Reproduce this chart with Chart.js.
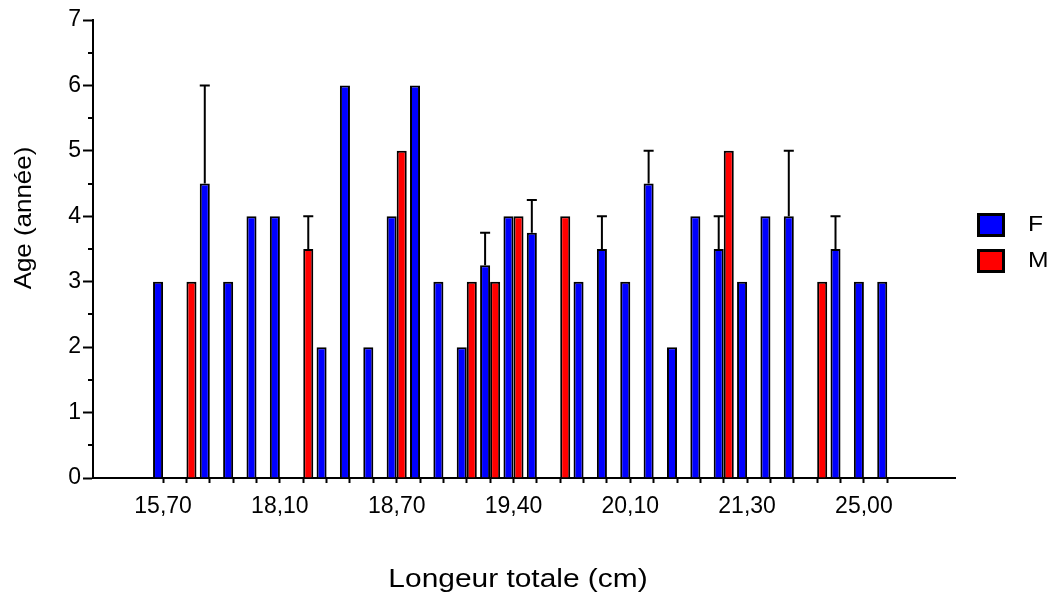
<!DOCTYPE html>
<html>
<head>
<meta charset="utf-8">
<script src="https://cdn.jsdelivr.net/npm/chart.js@4/dist/chart.umd.min.js"></script>
<style>
  html, body { margin: 0; padding: 0; background: #fff; }
  #wrap { width: 1052px; height: 592px; position: relative; }
</style>
</head>
<body>
<div id="wrap"><canvas id="c"></canvas></div>
<script>
// ---- data ----
const tickLabels = ['15,70','','','','','18,10','','','','','18,70','','','','','19,40','','','','','20,10','','','','','21,30','','','','','25,00',''];
const femaleAge = [3, null, 4.5, 3, 4, 4, null, 2, 6, 2, 4, 6, 3, 2, 3.25, 4, 3.75, null, 3, 3.5, 3, 4.5, 2, 4, 3.5, 3, 4, 4, null, 3.5, 3, 3];
const maleAge   = [null, 3, null, null, null, null, 3.5, null, null, null, 5, null, null, 3, 3, 4, null, 4, null, null, null, null, null, null, 5, null, null, null, 3, null, null, null];
const femaleErr = [0, 0, 1.5, 0, 0, 0, 0, 0, 0, 0, 0, 0, 0, 0, 0.5, 0, 0.5, 0, 0, 0.5, 0, 0.5, 0, 0, 0.5, 0, 0, 1, 0, 0.5, 0, 0];
const maleErr   = [0, 0, 0, 0, 0, 0, 0.5, 0, 0, 0, 0, 0, 0, 0, 0, 0, 0, 0, 0, 0, 0, 0, 0, 0, 0, 0, 0, 0, 0, 0, 0, 0];
const seriesNames = ['F', 'M'];
const xTitle = 'Longeur totale (cm)';
const yTitle = 'Age (année)';

const FONT = '"Liberation Sans", Arial, Helvetica, sans-serif';
const toPoints = arr => arr.map((v, i) => ({ x: i, y: v }));
const errs = [femaleErr, maleErr];

function drawStretched(ctx, text, x, y, size, sx, align, baseline, angle) {
  ctx.save();
  ctx.translate(x, y);
  if (angle) ctx.rotate(angle);
  ctx.scale(sx, 1);
  ctx.font = size + 'px ' + FONT;
  ctx.fillStyle = '#000';
  ctx.textAlign = align;
  ctx.textBaseline = baseline;
  ctx.fillText(text, 0, 0);
  ctx.restore();
}

const extras = {
  id: 'extras',
  afterDatasetsDraw(chart) {
    const ctx = chart.ctx;
    const yS = chart.scales.y;
    ctx.save();
    ctx.strokeStyle = '#000';
    ctx.lineWidth = 2;
    chart.data.datasets.forEach((ds, di) => {
      const meta = chart.getDatasetMeta(di);
      meta.data.forEach((bar, i) => {
        const v = ds.data[i].y;
        const e = errs[di][i];
        if (v == null || !e) return;
        const top = yS.getPixelForValue(v + e);
        const half = bar.width / 2;
        ctx.beginPath();
        ctx.moveTo(bar.x, bar.y);
        ctx.lineTo(bar.x, top);
        ctx.moveTo(bar.x - half, top);
        ctx.lineTo(bar.x + half, top);
        ctx.stroke();
      });
    });
    ctx.restore();
  },
  afterDraw(chart) {
    const ctx = chart.ctx;
    const yS = chart.scales.y;
    const ca = chart.chartArea;
    // minor ticks on y
    ctx.save();
    ctx.strokeStyle = '#000';
    ctx.lineWidth = 2;
    for (let v = 0.5; v < yS.max; v += 1) {
      const py = Math.round(yS.getPixelForValue(v));
      ctx.beginPath();
      ctx.moveTo(ca.left - 5, py);
      ctx.lineTo(ca.left, py);
      ctx.stroke();
    }
    ctx.restore();
    // axis titles
    drawStretched(ctx, xTitle, 518, 587, 26, 1.15, 'center', 'alphabetic', 0);
    drawStretched(ctx, yTitle, 31, 218, 24, 1.08, 'center', 'alphabetic', -Math.PI / 2);
    // legend
    chart.data.datasets.forEach((ds, di) => {
      const top = 213 + di * 36;
      ctx.save();
      ctx.fillStyle = ds.backgroundColor;
      ctx.fillRect(977, top, 28, 24);
      ctx.strokeStyle = '#000';
      ctx.lineWidth = 3;
      ctx.strokeRect(978.5, top + 1.5, 25, 21);
      ctx.restore();
      drawStretched(ctx, ds.label, 1028, top + 12, 22, 1.12, 'left', 'middle', 0);
    });
  }
};

new Chart(document.getElementById('c'), {
  type: 'bar',
  data: {
    datasets: [
      { label: seriesNames[0], data: toPoints(femaleAge), backgroundColor: '#0000FF', borderColor: '#000', borderWidth: 2 },
      { label: seriesNames[1], data: toPoints(maleAge), backgroundColor: '#FF0000', borderColor: '#000', borderWidth: 2 }
    ]
  },
  options: {
    responsive: true,
    maintainAspectRatio: false,
    animation: false,
    layout: { padding: { left: 0, top: 20, right: 97, bottom: 0 } },
    datasets: { bar: { categoryPercentage: 0.86, barPercentage: 1, grouped: true } },
    plugins: { legend: { display: false }, tooltip: { enabled: false }, title: { display: false } },
    scales: {
      x: {
        type: 'linear',
        offset: false,
        min: -3,
        max: 33.9,
        afterBuildTicks: s => { s.ticks = tickLabels.map((t, i) => ({ value: i })); },
        afterFit: s => { s.height = 114; },
        grid: { offset: false, drawOnChartArea: false, drawTicks: true, tickLength: 5, tickColor: '#000', tickWidth: 2 },
        border: { display: true, color: '#000', width: 2 },
        ticks: {
          autoSkip: false, maxRotation: 0, minRotation: 0, padding: 10,
          color: '#000', font: { family: FONT, size: 23 },
          callback: v => tickLabels[v] || ''
        }
      },
      y: {
        min: 0,
        max: 7,
        afterFit: s => { s.width = 93; },
        grid: { drawOnChartArea: false, drawTicks: true, tickLength: 10, tickColor: '#000', tickWidth: 2 },
        border: { display: true, color: '#000', width: 2 },
        ticks: { stepSize: 1, padding: 2, color: '#000', font: { family: FONT, size: 23 } }
      }
    }
  },
  plugins: [extras]
});
</script>
</body>
</html>
